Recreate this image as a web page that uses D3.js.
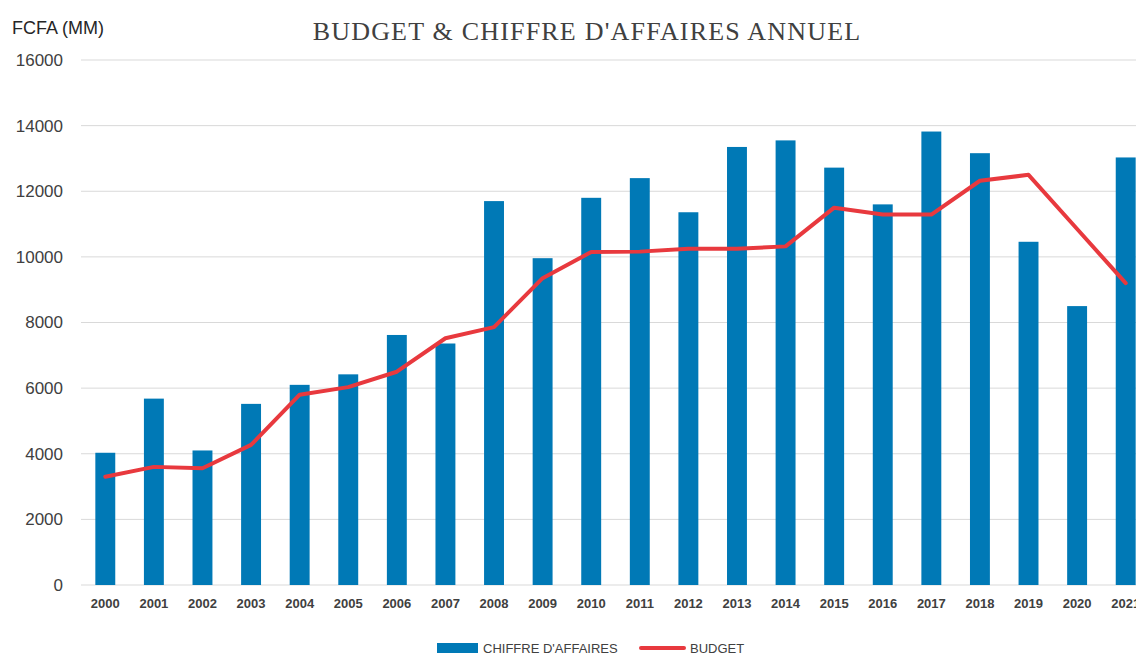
<!DOCTYPE html>
<html><head><meta charset="utf-8">
<script src="https://cdn.jsdelivr.net/npm/d3@7"></script>
<style>body{margin:0;background:#fff;overflow:hidden}svg{display:block}</style>
</head><body>
<script>
const years = ["2000","2001","2002","2003","2004","2005","2006","2007","2008","2009","2010","2011","2012","2013","2014","2015","2016","2017","2018","2019","2020","2021"];
const chiffre = [4030,5680,4100,5520,6100,6420,7620,7360,11700,9960,11800,12400,11360,13350,13550,12720,11600,13820,13160,10460,8500,13030];
const budget = [3300,3600,3560,4270,5800,6030,6500,7520,7860,9350,10150,10160,10250,10250,10320,11500,11290,11290,12320,12500,10850,9200];
const yTicks = [0,2000,4000,6000,8000,10000,12000,14000,16000];

const W = 1136, H = 653;
const svg = d3.select("body").append("svg").attr("width", W).attr("height", H);
const mLeft = 81, mRight = 1150, mTop = 60, mBottom = 585;

const x = d3.scaleBand().domain(years).range([mLeft, mRight]).paddingInner(0.59).paddingOuter(0.295);
const y = d3.scaleLinear().domain([0,16000]).range([mBottom, mTop]);

// gridlines
svg.append("g").selectAll("line").data(yTicks).join("line")
  .attr("x1", mLeft).attr("x2", W).attr("y1", d => y(d)).attr("y2", d => y(d))
  .attr("stroke", "#d9d9d9").attr("stroke-width", 1);

// y labels
const yAxis = d3.axisLeft(y).tickValues(yTicks).tickSize(0).tickPadding(0).tickFormat(d3.format("d"));
const ya = svg.append("g").attr("transform", `translate(63,0)`).call(yAxis);
ya.select(".domain").remove();
ya.selectAll("text").attr("font-family","Liberation Sans, Arial, sans-serif").attr("font-size",17).attr("fill","#404040");

// bars
svg.append("g").selectAll("rect").data(chiffre).join("rect")
  .attr("x", (d,i) => x(years[i])).attr("width", x.bandwidth())
  .attr("y", d => y(d)).attr("height", d => y(0) - y(d))
  .attr("fill", "#0079b6");

// x labels
const xAxis = d3.axisBottom(x).tickSize(0).tickPadding(0);
const xa = svg.append("g").attr("transform", `translate(0,${mBottom + 14})`).call(xAxis);
xa.select(".domain").remove();
xa.selectAll("text").attr("font-family","Liberation Sans, Arial, sans-serif").attr("font-size",13)
  .attr("font-weight","bold").attr("fill","#404040");

// budget line
const line = d3.line().x((d,i) => x(years[i]) + x.bandwidth()/2).y(d => y(d));
svg.append("path").datum(budget).attr("d", line).attr("fill","none")
  .attr("stroke","#e8393e").attr("stroke-width",4).attr("stroke-linejoin","round").attr("stroke-linecap","round");

// title
svg.append("text").attr("x", 587).attr("y", 40).attr("text-anchor","middle")
  .attr("font-family","Liberation Serif, Times New Roman, serif").attr("font-size",26)
  .attr("letter-spacing","1.2px").attr("fill","#404040").text("BUDGET & CHIFFRE D'AFFAIRES ANNUEL");

// axis title
svg.append("text").attr("x", 12).attr("y", 34)
  .attr("font-family","Liberation Sans, Arial, sans-serif").attr("font-size",18)
  .attr("fill","#262626").text("FCFA (MM)");

// legend
const lg = svg.append("g");
lg.append("rect").attr("x",437).attr("y",643).attr("width",41).attr("height",12).attr("fill","#0079b6");
lg.append("text").attr("x",483).attr("y",653).attr("font-family","Liberation Sans, Arial, sans-serif")
  .attr("font-size",13).attr("fill","#404040").text("CHIFFRE D'AFFAIRES");
lg.append("line").attr("x1",641).attr("x2",684).attr("y1",648).attr("y2",648)
  .attr("stroke","#e8393e").attr("stroke-width",4).attr("stroke-linecap","round");
lg.append("text").attr("x",690).attr("y",653).attr("font-family","Liberation Sans, Arial, sans-serif")
  .attr("font-size",13).attr("fill","#404040").text("BUDGET");
</script>
</body></html>
